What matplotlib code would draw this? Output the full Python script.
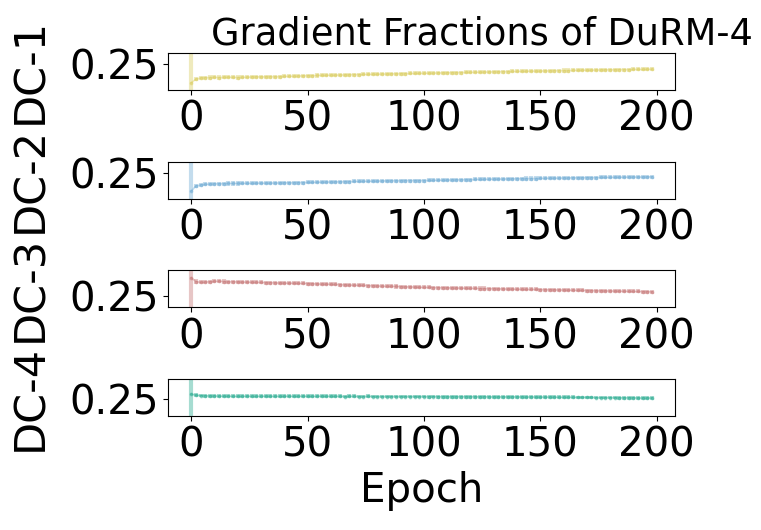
import matplotlib
matplotlib.use("Agg")
import matplotlib.pyplot as plt


epochs = list(range(0, 200, 2))

dc1 = [.2398, .2418, .2424, .2426, .2427, .2428, .2427, .2428, .2429, .2428,
       .2427, .2428, .2429, .2430, .2431, .2430, .2431, .2432, .2431, .2432,
       .2433, .2434, .2434, .2435, .2436, .2437, .2437, .2438, .2439, .2439,
       .2440, .2440, .2441, .2441, .2442, .2443, .2443, .2444, .2444, .2445,
       .2445, .2446, .2446, .2447, .2447, .2448, .2448, .2449, .2449, .2450,
       .2450, .2451, .2451, .2452, .2452, .2453, .2453, .2454, .2454, .2455,
       .2455, .2456, .2456, .2457, .2457, .2458, .2458, .2459, .2459, .2460,
       .2460, .2461, .2461, .2462, .2462, .2462, .2463, .2463, .2464, .2464,
       .2465, .2465, .2466, .2466, .2467, .2467, .2467, .2468, .2468, .2469,
       .2469, .2469, .2470, .2470, .2470, .2471, .2471, .2471, .2472, .2472]

dc2 = [.2400, .2428, .2434, .2437, .2439, .2440, .2441, .2441, .2442, .2442,
       .2442, .2443, .2443, .2443, .2444, .2444, .2444, .2444, .2445, .2445,
       .2446, .2446, .2446, .2447, .2447, .2448, .2448, .2449, .2449, .2450,
       .2450, .2451, .2451, .2452, .2452, .2453, .2453, .2454, .2454, .2455,
       .2455, .2456, .2456, .2457, .2457, .2457, .2458, .2458, .2458, .2458,
       .2458, .2459, .2459, .2460, .2460, .2461, .2461, .2462, .2462, .2463,
       .2463, .2464, .2464, .2465, .2465, .2466, .2466, .2466, .2467, .2467,
       .2468, .2468, .2469, .2469, .2469, .2470, .2470, .2471, .2471, .2471,
       .2472, .2472, .2473, .2473, .2473, .2474, .2474, .2474, .2475, .2475,
       .2475, .2476, .2476, .2476, .2477, .2477, .2477, .2477, .2478, .2478]

dc3 = [.2596, .2576, .2572, .2573, .2575, .2577, .2578, .2576, .2574, .2575,
       .2574, .2573, .2573, .2572, .2572, .2571, .2570, .2570, .2569, .2568,
       .2568, .2567, .2567, .2566, .2566, .2565, .2564, .2563, .2562, .2562,
       .2561, .2560, .2559, .2558, .2557, .2556, .2556, .2555, .2554, .2553,
       .2552, .2551, .2550, .2550, .2549, .2548, .2547, .2547, .2546, .2545,
       .2544, .2544, .2543, .2543, .2542, .2542, .2541, .2541, .2540, .2540,
       .2539, .2539, .2538, .2538, .2537, .2537, .2536, .2536, .2535, .2535,
       .2534, .2534, .2533, .2533, .2533, .2532, .2532, .2531, .2531, .2530,
       .2530, .2529, .2529, .2528, .2528, .2527, .2527, .2526, .2526, .2525,
       .2525, .2524, .2524, .2523, .2523, .2522, .2522, .2521, .2521, .2520]

dc4 = [.2527, .2521, .2519, .2518, .2517, .2517, .2516, .2516, .2516, .2515,
       .2515, .2515, .2516, .2515, .2515, .2515, .2516, .2515, .2515, .2515,
       .2515, .2516, .2515, .2515, .2516, .2515, .2515, .2515, .2516, .2515,
       .2515, .2515, .2515, .2514, .2515, .2515, .2514, .2514, .2515, .2514,
       .2514, .2514, .2514, .2514, .2514, .2514, .2514, .2514, .2514, .2514,
       .2514, .2513, .2514, .2513, .2513, .2513, .2513, .2513, .2513, .2513,
       .2513, .2513, .2512, .2513, .2512, .2512, .2512, .2512, .2512, .2512,
       .2512, .2512, .2511, .2512, .2511, .2511, .2511, .2511, .2511, .2510,
       .2510, .2510, .2510, .2509, .2509, .2509, .2509, .2508, .2508, .2508,
       .2508, .2508, .2507, .2507, .2507, .2507, .2506, .2506, .2506, .2506]

# spread: big at epoch 0, small afterwards
std_first = [0.03, 0.03, 0.03, 0.03]
std_rest = [0.0011, 0.0011, 0.0011, 0.0010]

labels = ["DC-1", "DC-2", "DC-3", "DC-4"]
colors = ["#d9cb5a", "#6aa8d2", "#c47272", "#21a88c"]
ylims = [(0.236, 0.256), (0.236, 0.256), (0.2436, 0.2636), (0.2408, 0.2608)]
series = [dc1, dc2, dc3, dc4]

fig, axes = plt.subplots(4, 1, figsize=(7.61, 5.30), dpi=100)
fig.subplots_adjust(left=0.221, right=0.887, top=0.900, bottom=0.215, hspace=1.95)

for i, ax in enumerate(axes):
    std = [std_first[i]] + [std_rest[i]] * (len(epochs) - 1)
    ax.errorbar(epochs, series[i], yerr=std, fmt=".-", color=colors[i],
                ms=3.5, lw=1.2, elinewidth=3, alpha=0.4)
    ax.set_ylim(*ylims[i])
    ax.set_yticks([0.25])
    ax.set_xticks([0, 50, 100, 150, 200])
    ax.tick_params(labelsize=29)
    ax.set_ylabel(labels[i], fontsize=31, labelpad=13)

axes[0].set_title("Gradient Fractions of DuRM-4", fontsize=26.5, x=0.62, pad=6)
axes[-1].set_xlabel("Epoch", fontsize=29)

fig.savefig("out.png", dpi=100)
